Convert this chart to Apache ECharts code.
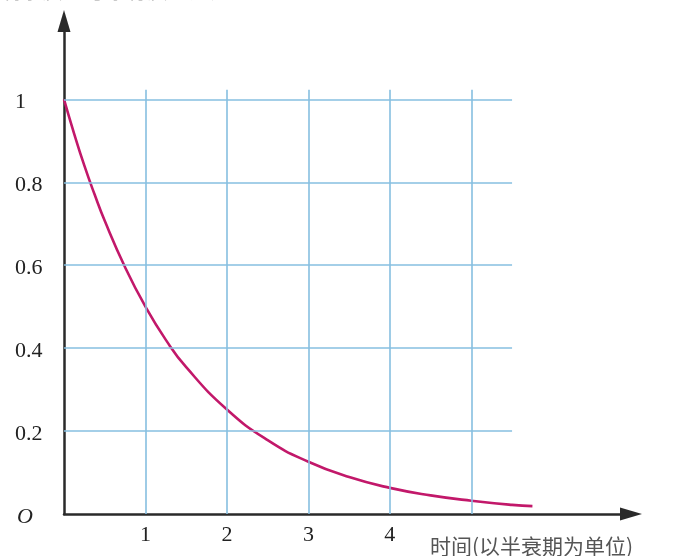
<!DOCTYPE html>
<html>
<head>
<meta charset="utf-8">
<script src="https://cdn.jsdelivr.net/npm/echarts@6/dist/echarts.min.js"></script>
<style>
html,body{margin:0;padding:0;background:#fff;}
#chart{width:685px;height:556px;}
</style>
</head>
<body>
<div id="chart"></div>
<script>
// Decay curve: remaining fraction vs time (in half-lives)
const curveT = [0, 0.125, 0.25, 0.375, 0.5, 0.75, 1, 1.25, 1.5, 2, 2.5, 3, 3.5, 4, 4.5, 5, 5.5, 5.75];
const curveY = [1, 0.917, 0.84, 0.771, 0.707, 0.595, 0.5, 0.42, 0.354, 0.252, 0.178, 0.126, 0.089, 0.063, 0.045, 0.032, 0.022, 0.019];

const xGridValues = [1, 2, 3, 4, 5];
const yGridValues = [0.2, 0.4, 0.6, 0.8, 1];
const gridXEnd = 5.5;
const gridYEnd = 1.023;

const xTickLabels = [1, 2, 3, 4];
const yTickLabels = [0.2, 0.4, 0.6, 0.8, 1];
const originLabel = 'O';
const xAxisName = '时间(以半衰期为单位)';
const yAxisName = '剩余质量与原有质量之比';

const xMax = 6.96;
const yMax = 1.189;

const serif = '"Liberation Serif","DejaVu Serif",serif';

const gridLines = [];
xGridValues.forEach(v => gridLines.push([{coord: [v, 0]}, {coord: [v, gridYEnd]}]));
yGridValues.forEach(v => gridLines.push([{coord: [0, v]}, {coord: [gridXEnd, v]}]));

const chart = echarts.init(document.getElementById('chart'));
chart.setOption({
  backgroundColor: '#ffffff',
  animation: false,
  grid: {left: 64, right: 54, top: 21, bottom: 42, containLabel: false},
  xAxis: {
    type: 'value', min: 0, max: xMax, interval: 1,
    axisLine: {lineStyle: {color: '#2a2a2a', width: 2.5}, symbol: ['none', 'triangle'], symbolSize: [13, 22]},
    axisTick: {show: false},
    splitLine: {show: false},
    axisLabel: {
      showMinLabel: true, showMaxLabel: false,
      margin: 10, fontFamily: serif, fontSize: 22, color: '#222',
      formatter: v => xTickLabels.includes(v) ? String(v) : ''
    }
  },
  yAxis: {
    type: 'value', min: 0, max: yMax, interval: 0.2,
    axisLine: {lineStyle: {color: '#2a2a2a', width: 2.5}, symbol: ['none', 'triangle'], symbolSize: [13, 22]},
    axisTick: {show: false},
    splitLine: {show: false},
    axisLabel: {
      align: 'left', margin: 49, fontFamily: serif, fontSize: 22, color: '#222',
      padding: [6, 0, 0, 0],
      formatter: v => {
        if (Math.abs(v) < 1e-9) return '{o|' + originLabel + '}';
        const hit = yTickLabels.find(t => Math.abs(t - v) < 1e-6);
        if (hit === undefined) return '';
        return hit === 1 ? '1' : hit.toFixed(1);
      },
      rich: {o: {fontFamily: serif, fontStyle: 'italic', fontSize: 22, color: '#222', padding: [0, 0, 0, 2]}}
    }
  },
  series: [
    {
      type: 'line', data: [], silent: true, z: 1,
      markLine: {
        silent: true, symbol: ['none', 'none'], label: {show: false},
        lineStyle: {color: '#86bfe0', width: 1.6, type: 'solid'},
        data: gridLines
      }
    },
    {
      type: 'line', smooth: true, showSymbol: false, z: 3,
      lineStyle: {color: '#c2186a', width: 2.6},
      data: curveT.map((t, i) => [t, curveY[i]])
    }
  ],
  graphic: [
    {type: 'text', left: 430, top: 536, style: {text: xAxisName, fontFamily: '"Noto Sans CJK SC",sans-serif', fontSize: 21, fill: '#555'}},
    {type: 'text', left: 0, top: -20, style: {text: yAxisName, fontFamily: '"Noto Sans CJK SC",sans-serif', fontSize: 21, fill: '#999'}}
  ]
});
</script>
</body>
</html>
